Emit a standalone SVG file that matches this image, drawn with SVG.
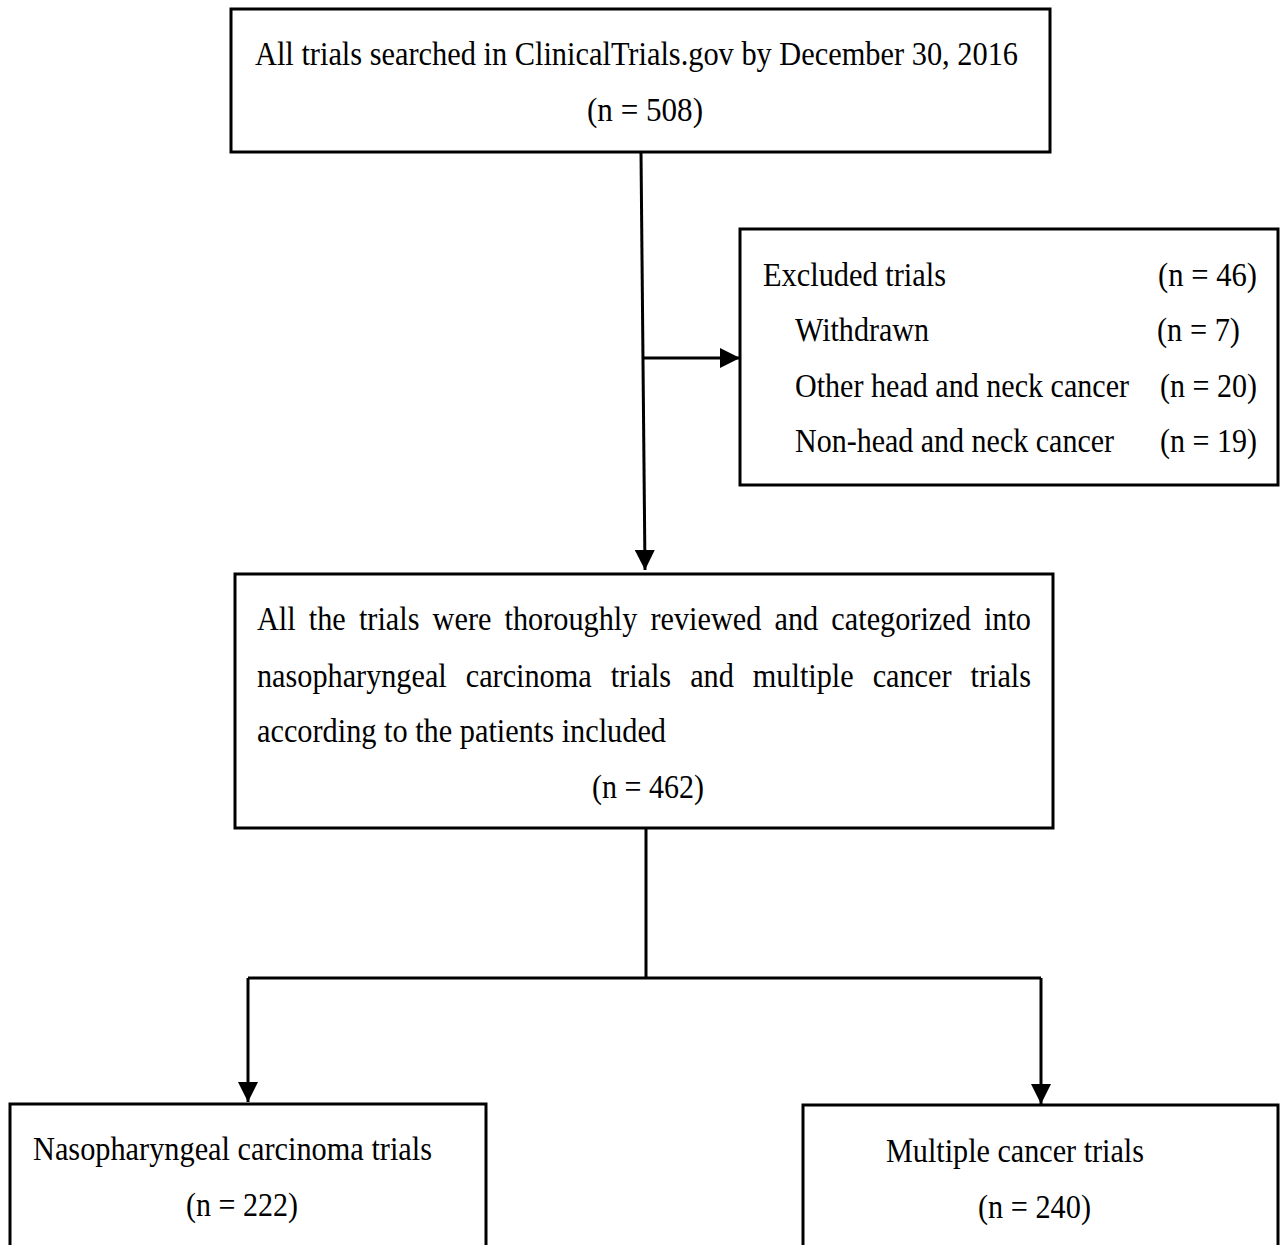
<svg xmlns="http://www.w3.org/2000/svg" width="1281" height="1245" viewBox="0 0 1281 1245">
<style>
.box{fill:#fff;stroke:#000;stroke-width:3}
.ln{fill:none;stroke:#000;stroke-width:3}
text{font-family:"Liberation Serif","Times New Roman",serif;font-size:34px;fill:#000}
</style>
<defs>
<marker id="ah" markerUnits="userSpaceOnUse" markerWidth="22" markerHeight="20" refX="20" refY="10" orient="auto">
<path d="M0,0 L20,10 L0,20 Z" fill="#000"/>
</marker>
</defs>
<rect width="1281" height="1245" fill="#fff"/>
<g id="connectors">
<path class="ln" d="M641,152 L645,570" marker-end="url(#ah)"/>
<path class="ln" d="M643,358 L740,358" marker-end="url(#ah)"/>
<path class="ln" d="M646,828 L646,978"/>
<path class="ln" d="M248,978 L1041,978"/>
<path class="ln" d="M248,978 L248,1102" marker-end="url(#ah)"/>
<path class="ln" d="M1041,978 L1041,1104" marker-end="url(#ah)"/>
</g>
<g id="n1">
<rect class="box" x="231" y="9" width="819" height="143"/>
<text x="255" y="65" textLength="763" lengthAdjust="spacingAndGlyphs">All trials searched in ClinicalTrials.gov by December 30, 2016</text>
<text x="587" y="121" textLength="116" lengthAdjust="spacingAndGlyphs">(n = 508)</text>
</g>
<g id="n2">
<rect class="box" x="740" y="229" width="538" height="256"/>
<text x="763" y="286" textLength="183" lengthAdjust="spacingAndGlyphs">Excluded trials</text>
<text x="1158" y="286" textLength="99" lengthAdjust="spacingAndGlyphs">(n = 46)</text>
<text x="795" y="341" textLength="134" lengthAdjust="spacingAndGlyphs">Withdrawn</text>
<text x="1157" y="341" textLength="83" lengthAdjust="spacingAndGlyphs">(n = 7)</text>
<text transform="translate(795,397) scale(0.886,1)" x="0" y="0" textLength="377" lengthAdjust="spacingAndGlyphs">Other head and neck cancer</text>
<text x="1160" y="397" textLength="97" lengthAdjust="spacingAndGlyphs">(n = 20)</text>
<text x="795" y="452" textLength="319" lengthAdjust="spacingAndGlyphs">Non-head and neck cancer</text>
<text x="1160" y="452" textLength="97" lengthAdjust="spacingAndGlyphs">(n = 19)</text>
</g>
<g id="n3">
<rect class="box" x="235" y="574" width="818" height="254"/>
<text x="257" y="630" word-spacing="6.3" textLength="774" lengthAdjust="spacingAndGlyphs">All the trials were thoroughly reviewed and categorized into</text>
<text x="257" y="687" word-spacing="12.9" textLength="774" lengthAdjust="spacingAndGlyphs">nasopharyngeal carcinoma trials and multiple cancer trials</text>
<text x="257" y="742" textLength="409" lengthAdjust="spacingAndGlyphs">according to the patients included</text>
<text x="592" y="798" textLength="112" lengthAdjust="spacingAndGlyphs">(n = 462)</text>
</g>
<g id="n4">
<rect class="box" x="10" y="1104" width="476" height="160"/>
<text x="33" y="1160" textLength="399" lengthAdjust="spacingAndGlyphs">Nasopharyngeal carcinoma trials</text>
<text x="186" y="1216" textLength="112" lengthAdjust="spacingAndGlyphs">(n = 222)</text>
</g>
<g id="n5">
<rect class="box" x="803" y="1105" width="475" height="160"/>
<text x="886" y="1162" textLength="258" lengthAdjust="spacingAndGlyphs">Multiple cancer trials</text>
<text x="978" y="1218" textLength="113" lengthAdjust="spacingAndGlyphs">(n = 240)</text>
</g>
</svg>
